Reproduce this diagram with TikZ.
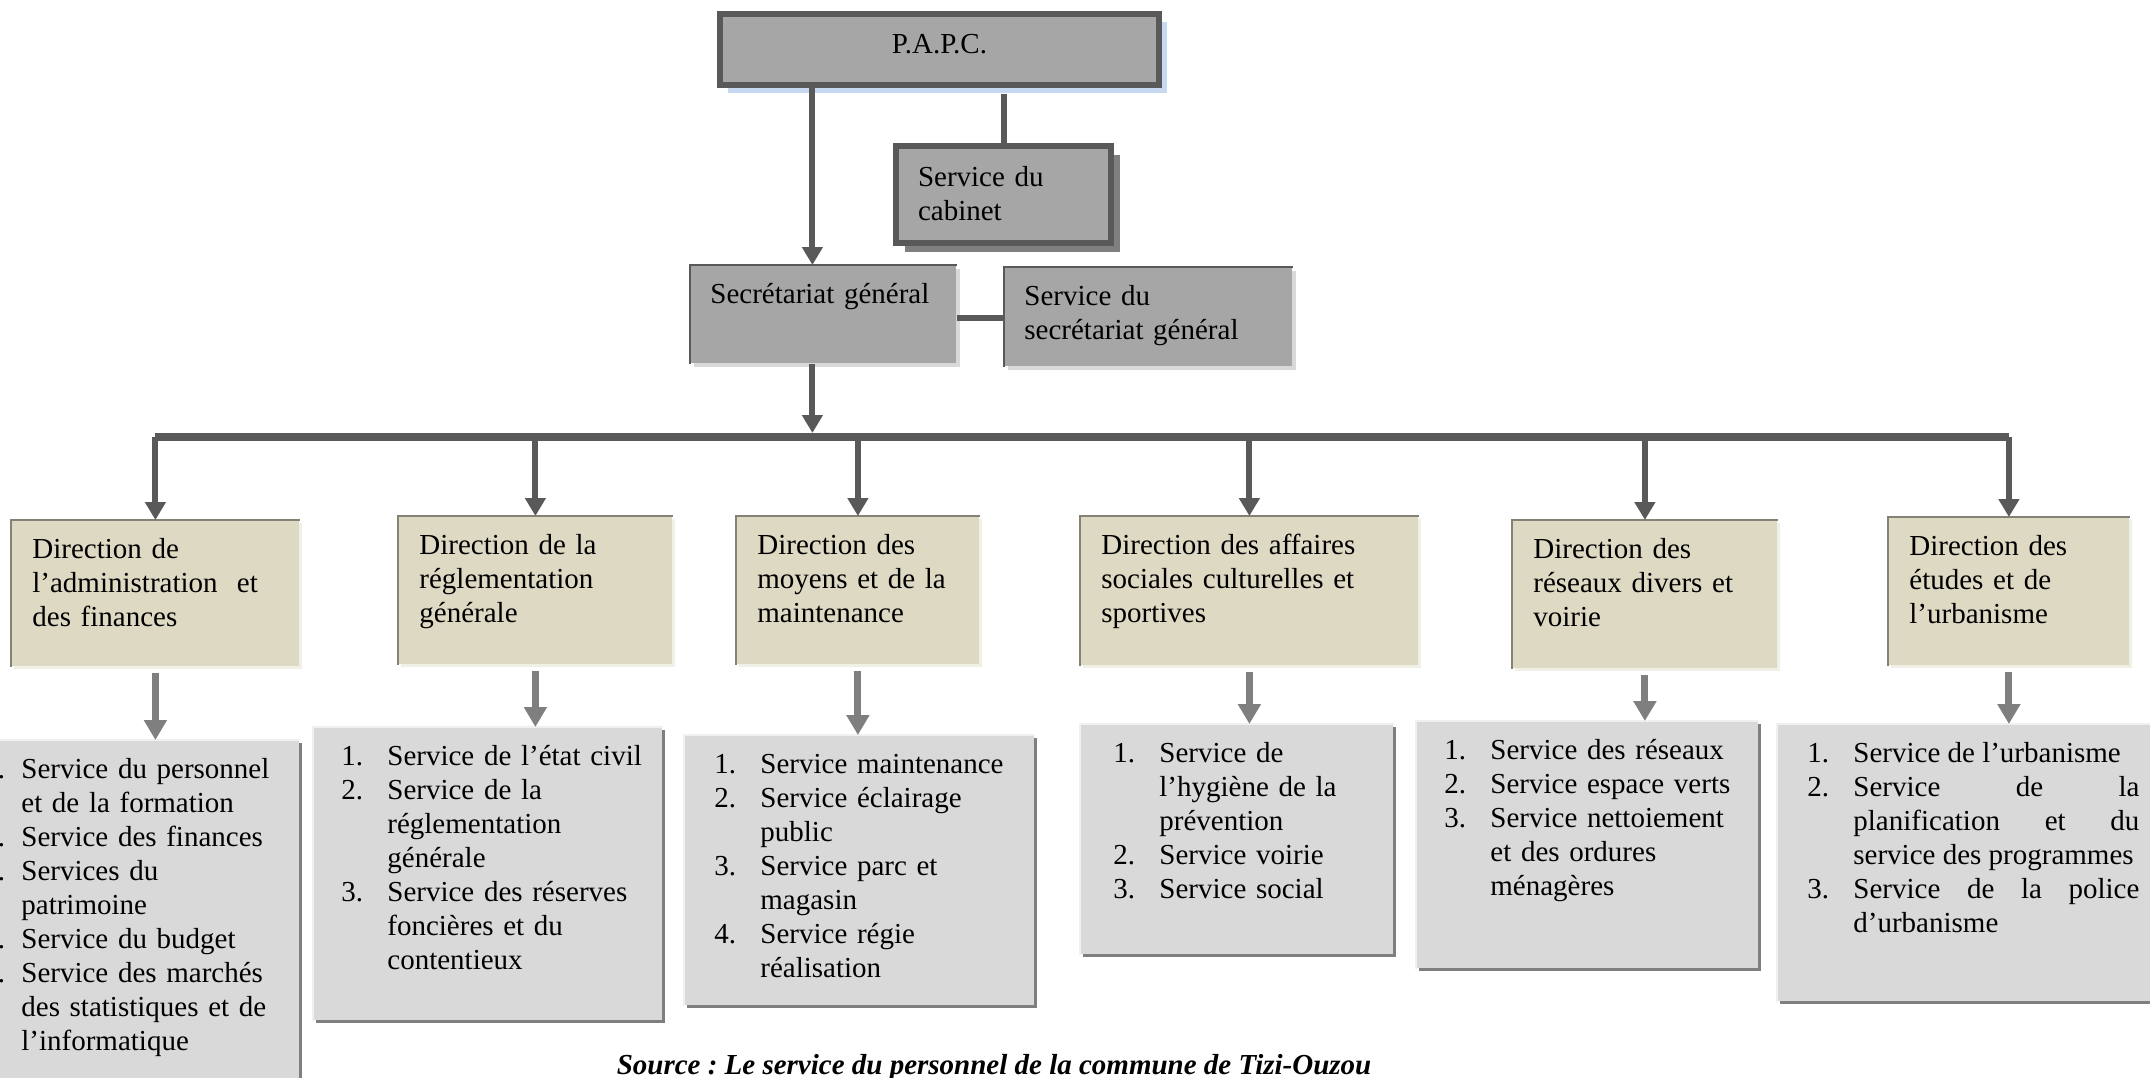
\documentclass[tikz,border=0pt]{standalone}
\usepackage{fontspec}
\setmainfont{Liberation Serif}
\usetikzlibrary{arrows.meta,shadows}
\definecolor{ORfonce}{HTML}{595959}
\definecolor{ORmoyen}{HTML}{7F7F7F}
\definecolor{ORgris}{HTML}{A6A6A6}
\definecolor{ORclair}{HTML}{D9D9D9}
\definecolor{ORbeige}{HTML}{DDD9C3}
\definecolor{ORbleu}{HTML}{C6D9F1}
\colorlet{ORbordbeige}{ORbeige!60!black}
\colorlet{ORombrebeige}{ORbeige!40!white}
\colorlet{ORbordclair}{ORclair!40!white}
\newlength\itmhang
\setlength\itmhang{23pt}
\newcommand\itm[2]{\hangindent=\itmhang\hangafter=1\makebox[\itmhang][l]{#1}#2\par}

\begin{document}
\begin{tikzpicture}[x=.5pt,y=-.5pt,font=\fontsize{14.5}{17}\selectfont,
 ORtete/.style={anchor=north west,inner sep=0pt,align=center,draw=ORfonce,line width=3pt,fill=ORgris,
  drop shadow={shadow xshift=4pt,shadow yshift=-4pt,fill=ORbleu,opacity=1}},
 ORcab/.style={anchor=north west,inner ysep=0pt,align=left,draw=ORfonce,line width=3pt,fill=ORgris,
  drop shadow={shadow xshift=4.5pt,shadow yshift=-4.5pt,fill=ORmoyen,opacity=1}},
 ORsec/.style={anchor=north west,inner ysep=0pt,align=left,fill=ORgris,text height=19pt,
  drop shadow={shadow xshift=2pt,shadow yshift=-2pt,fill=ORclair,opacity=1}},
 ORdir/.style={anchor=north west,inner xsep=10.5pt,inner ysep=0pt,align=left,fill=ORbeige,text height=19pt,
  drop shadow={shadow xshift=1.5pt,shadow yshift=-1.5pt,fill=ORombrebeige,opacity=1}},
 ORsvc/.style={anchor=north west,inner ysep=0pt,align=left,fill=ORclair,text height=19pt,
  drop shadow={shadow xshift=1.5pt,shadow yshift=-1.5pt,fill=ORmoyen,opacity=1}},
 ORfleche/.style={draw=ORfonce,line width=3pt,-{Triangle[width=10pt,length=9pt]}},
 ORsous/.style={draw=ORmoyen,line width=3.5pt,-{Triangle[width=11pt,length=10pt]}},
 ORlien/.style={draw=ORfonce,line width=3pt},
 ORbus/.style={draw=ORfonce,line width=4pt},
 ORsource/.style={anchor=base,font=\fontsize{14.5}{17}\selectfont\bfseries\itshape}]
\useasboundingbox (0,0) rectangle (2150,1077);
\node[ORtete,text width=219.5pt,text height=19.75pt,text depth=15.75pt] (papc) at (717,11) {P.A.P.C.};
\node[ORcab,inner xsep=11pt,text width=85.5pt,text height=20pt,text depth=28.5pt] (cab) at (893,143) {Service du\\cabinet};
\node[ORsec,inner xsep=10pt,text width=113pt,text depth=30pt] (sg) at (690,265) {Secrétariat général};
\node[ORsec,inner xsep=10pt,text width=124pt,text depth=30.5pt] (ssg) at (1004,267) {Service du\\secrétariat général};
\foreach \n in {sg,ssg}{\draw[ORfonce,line width=1pt] (\n.south west)--(\n.north west)--(\n.north east);}
\foreach \i/\x/\y/\w/\h/\txt in {
 1/11/520/123pt/54pt/{Direction de\\l’administration\ \ et\\des finances},
 2/398/516/116pt/55pt/{Direction de la\\réglementation\\générale},
 3/736/516/100.5pt/55pt/{Direction des\\moyens et de la\\maintenance},
 4/1080/516/148pt/55.5pt/{Direction des affaires\\sociales culturelles et\\sportives},
 5/1512/520/111.5pt/55pt/{Direction des\\réseaux divers et\\voirie},
 6/1888/517/99.5pt/55pt/{Direction des\\études et de\\l’urbanisme}}
 {\node[ORdir,text width=\w,text depth=\h] (d\i) at (\x,\y) {\txt};
  \draw[ORbordbeige,line width=1pt] (d\i.south west)--(d\i.north west)--(d\i.north east);}
\node[ORsvc,inner xsep=13pt,text width=145pt,text depth=166pt] (s1) at (-43,740) {\setlength{\itmhang}{19pt}%
 \itm{1.}{Service du personnel\newline et de la formation}\itm{2.}{Service des finances}%
 \itm{3.}{Services du\newline patrimoine}\itm{4.}{Service du budget}%
 \itm{5.}{Service des marchés\newline des statistiques et de\newline l’informatique}};
\node[ORsvc,inner xsep=14pt,text width=146.5pt,text depth=127.5pt] (s2) at (313,727) {%
 \itm{1.}{Service~de~l’état~civil}\itm{2.}{Service de la\newline réglementation\newline générale}%
 \itm{3.}{Service des réserves\newline foncières et du\newline contentieux}};
\node[ORsvc,inner xsep=15pt,text width=145pt,text depth=116pt] (s3) at (684,735) {%
 \itm{1.}{Service~maintenance}\itm{2.}{Service éclairage\newline public}%
 \itm{3.}{Service parc et\newline magasin}\itm{4.}{Service régie\newline réalisation}};
\node[ORsvc,inner xsep=16.5pt,text width=123.5pt,text depth=96pt] (s4) at (1080,724) {%
 \itm{1.}{Service de\newline l’hygiène de la\newline prévention}\itm{2.}{Service voirie}\itm{3.}{Service social}};
\node[ORsvc,inner xsep=14pt,text width=143pt,text depth=104.5pt] (s5) at (1416,721) {%
 \itm{1.}{Service des réseaux}\itm{2.}{Service~espace~verts}%
 \itm{3.}{Service~nettoiement\newline et des ordures\newline ménagères}};
\node[ORsvc,align=justify,inner xsep=15pt,text width=166pt,text depth=119.5pt] (s6) at (1777,724) {%
 \itm{1.}{Service de l’urbanisme}\itm{2.}{Service de la\linebreak planification et du\linebreak service des programmes}%
 \itm{3.}{Service de la police\linebreak d’urbanisme}};
\foreach \i in {1,...,6}{\draw[ORbordclair,line width=1pt] (s\i.south west)--(s\i.north west)--(s\i.north east);}
\coordinate (bus) at (812,437);
\draw[ORfleche] ([xshift=-5.5pt]sg.north |- papc.south)--([xshift=-5.5pt]sg.north);
\draw[ORlien] ([yshift=-3pt]cab.north |- papc.south)--(cab.north);
\draw[ORlien] ([yshift=-2pt]sg.east)--([yshift=-2pt]sg.east -| ssg.west);
\draw[ORfleche,shorten >=2pt] ([xshift=-5.5pt]sg.south)--([xshift=-5.5pt]sg.south |- bus);
\draw[ORbus] (bus -| d1.north)--(bus -| d6.north);
\foreach \i in {1,...,6}{\draw[ORfleche] (bus -| d\i.north)--(d\i.north);}
\foreach \i in {1,...,6}{\draw[ORsous] ([yshift=-3pt]d\i.south)--(d\i.south |- s\i.north);}
\node[ORsource] (src) at (994,1074) {Source :\ Le service du personnel de la commune de Tizi-Ouzou};
\end{tikzpicture}
\end{document}
